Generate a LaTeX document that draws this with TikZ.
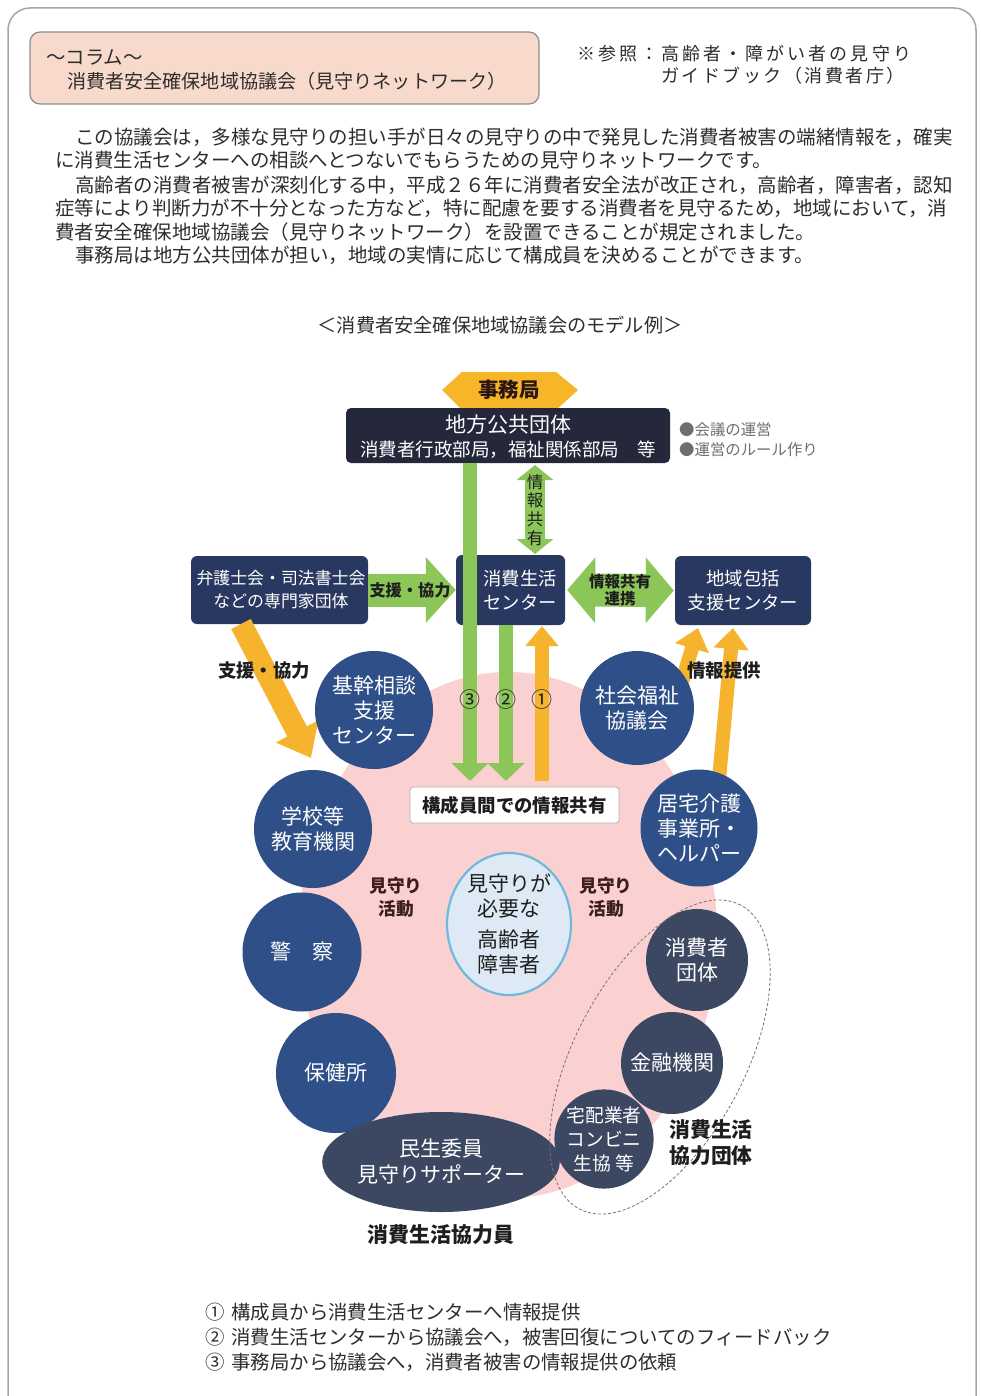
\documentclass[tikz,border=0pt]{standalone}
\usepackage{fontspec}
\setmainfont{Noto Sans CJK JP}
\usetikzlibrary{arrows.meta,shapes.geometric}

\definecolor{framec}{RGB}{165,165,165}
\definecolor{titlebg}{RGB}{248,218,204}
\definecolor{titleln}{RGB}{140,140,140}
\definecolor{txt}{RGB}{45,45,45}
\definecolor{darkbox}{RGB}{36,40,58}
\definecolor{navy}{RGB}{40,56,96}
\definecolor{cblue}{RGB}{46,79,136}
\definecolor{cgray}{RGB}{60,72,98}
\definecolor{grn}{RGB}{141,198,88}
\definecolor{org}{RGB}{246,180,46}
\definecolor{pinkbg}{RGB}{250,208,208}
\definecolor{elfill}{RGB}{221,234,245}
\definecolor{elline}{RGB}{110,185,222}
\definecolor{bulletc}{RGB}{110,110,110}
\definecolor{lbl}{RGB}{30,30,30}
\definecolor{mimori}{RGB}{60,30,30}
\definecolor{hexc}{RGB}{247,182,40}

\newcommand{\fsz}[2]{\fontsize{#1}{#2}\selectfont}

\begin{document}
\begin{tikzpicture}[x=1pt,y=-1pt,
  para/.style={anchor=west, inner sep=0pt, text=txt, font=\fsz{19.5}{24}},
  note/.style={anchor=west, inner sep=0pt, text=txt, font=\fsz{19.4}{24}},
  navybox/.style={rectangle, rounded corners=6pt, fill=navy, inner sep=0pt},
  boxtxt/.style={text=white, align=center, inner sep=0pt},
  circ/.style={circle, fill=cblue, text=white, inner sep=0pt, align=center, font=\fsz{21}{25}},
  gcirc/.style={circle, fill=cgray, text=white, inner sep=0pt, align=center, font=\fsz{21}{25}},
  blab/.style={inner sep=0pt, text=lbl, align=center, font=\bfseries\fsz{18.4}{22}},
  numlab/.style={inner sep=0pt, text=lbl, font=\fsz{21}{24}},
  garrow/.style={draw=grn, line width=14pt, -{Triangle[width=36pt,length=18pt]}},
  oarrow/.style={draw=org, line width=14pt, -{Triangle[width=34pt,length=21pt]}},
]
\path[use as bounding box] (0,0) rectangle (980,1396);
\fill[white] (0,0) rectangle (980,1396);
\begin{scope}
  \clip (0,0) rectangle (980,1396);
  \draw[framec, line width=1.5pt, rounded corners=22pt] (8,8) rectangle (976,1430);
\end{scope}

% title box
\node[draw=titleln, line width=1.2pt, fill=titlebg, rounded corners=10pt,
      minimum width=509pt, minimum height=72pt, inner sep=0pt] (titlebox) at (284.5,68) {};
\node[anchor=west, inner sep=0pt, text=txt, font=\fsz{19.4}{24}] (coltitle) at (46,57) {～コラム～};
\node[anchor=west, inner sep=0pt, text=txt, font=\fsz{19.1}{24}] (council) at (67,81) {消費者安全確保地域協議会（見守りネットワーク）};
\node[anchor=west, inner sep=0pt, text=txt, font=\fsz{18}{24}\addfontfeature{LetterSpace=17}] (ref1) at (577,54) {※参照：高齢者・障がい者の見守り};
\node[anchor=west, inner sep=0pt, text=txt, font=\fsz{18}{24}\addfontfeature{LetterSpace=14}] (ref2) at (661,76) {ガイドブック（消費者庁）};

% paragraph
\node[para] (p1) at (75,137) {この協議会は，多様な見守りの担い手が日々の見守りの中で発見した消費者被害の端緒情報を，確実};
\node[para] (p2) at (55,160) {に消費生活センターへの相談へとつないでもらうための見守りネットワークです。};
\node[para] (p3) at (75,185) {高齢者の消費者被害が深刻化する中，平成２６年に消費者安全法が改正され，高齢者，障害者，認知};
\node[para] (p4) at (55,208) {症等により判断力が不十分となった方など，特に配慮を要する消費者を見守るため，地域において，消};
\node[para] (p5) at (55,232) {費者安全確保地域協議会（見守りネットワーク）を設置できることが規定されました。};
\node[para] (p6) at (75,255) {事務局は地方公共団体が担い，地域の実情に応じて構成員を決めることができます。};

\node[inner sep=0pt, text=txt, font=\fsz{19.2}{24}] (model) at (500,325) {＜消費者安全確保地域協議会のモデル例＞};

% pink background
\node[ellipse, fill=pinkbg, minimum width=418pt, minimum height=526pt, inner sep=0pt] (pink) at (508,935) {};

% jimukyoku hexagon and local government box
\fill[hexc] (442,390) -- (462,372) -- (556,372) -- (578,390) -- (556,410) -- (462,410) -- cycle;
\node[inner sep=0pt, text=mimori!70!black, font=\bfseries\fsz{20.5}{24}] (jimu) at (509,390) {事務局};
\node[rectangle, rounded corners=5pt, fill=darkbox, minimum width=324pt, minimum height=55pt, inner sep=0pt] (gov) at (508,435.5) {};
\node[boxtxt, font=\fsz{21}{24}] (govt1) at (508,425) {地方公共団体};
\node[boxtxt, font=\fsz{18.5}{24}] (govt2) at (508,450) {消費者行政部局，福祉関係部局　等};
\node[anchor=west, inner sep=0pt, text=bulletc, font=\fsz{15.4}{20}] (bul1) at (679,430) {●会議の運営};
\node[anchor=west, inner sep=0pt, text=bulletc, font=\fsz{15.4}{20}] (bul2) at (679,450) {●運営のルール作り};

% boxes
\node[navybox, minimum width=177pt, minimum height=68pt] (bengo) at (279.5,590) {};
\node[boxtxt, font=\fsz{16.9}{23}] (bengot) at (281,590) {弁護士会・司法書士会\\などの専門家団体};
\node[navybox, minimum width=109pt, minimum height=70pt] (center) at (510.5,590) {};
\node[boxtxt, font=\fsz{18.3}{24}] (centert) at (520,590) {消費生活\\センター};
\node[navybox, minimum width=136pt, minimum height=69pt] (chiiki) at (743,590.5) {};
\node[boxtxt, font=\fsz{18.4}{24}] (chiikit) at (743,590.5) {地域包括\\支援センター};

% vertical info share arrow
\coordinate (vs1) at (535,465);
\coordinate (vs2) at (535,554);
\draw[draw=grn, line width=20pt, {Triangle[width=36pt,length=15pt]}-{Triangle[width=36pt,length=15pt]}] (vs1) -- (vs2);
\node[inner sep=0pt, align=center, text=lbl, font=\fsz{16.5}{18.6}] (vst) at (535,510) {情\\報\\共\\有};

% horizontal green arrows
\draw[draw=grn, line width=33pt, -{Triangle[width=64pt,length=30pt]}] (bengo.east) -- (center.west);
\node[inner sep=0pt, text=lbl, font=\bfseries\fsz{16.2}{20}] (shien1) at (410,590) {支援・協力};
\draw[draw=grn, line width=33pt, {Triangle[width=64pt,length=28pt]}-{Triangle[width=64pt,length=28pt]}] ([xshift=2pt]center.east) -- ([xshift=-1pt]chiiki.west);
\node[inner sep=0pt, align=center, text=lbl, font=\bfseries\fsz{15.5}{17}] (renkei) at (620,590) {情報共有\\連携};

% numbered arrows
\coordinate (a3s) at (470,463);
\coordinate (a3e) at (470,781);
\coordinate (a2e) at (506,781);
\coordinate (a1s) at (542,781);
\coordinate (a1e) at (542,626);
\draw[garrow] (a3s) -- (a3e);
\draw[garrow] ([xshift=-4.5pt]center.south) -- (a2e);
\draw[oarrow, -{Triangle[width=32pt,length=20pt]}] (a1s) -- (a1e);
\node[numlab] (n3) at (470,700) {③};
\node[numlab] (n2) at (506,700) {②};
\node[numlab] (n1) at (542,700) {①};

% orange arrows
\coordinate (ol1) at (241,624);
\coordinate (ol2) at (311,758);
\draw[draw=org, line width=22pt, -{Triangle[width=46pt,length=30pt]}] (ol1) -- (ol2);
\node[blab] (shien2) at (264,671) {支援・協力};
\coordinate (or1s) at (676,702);
\coordinate (or1e) at (698,628);
\coordinate (or2s) at (718,790);
\coordinate (or2e) at (733,628);
\draw[oarrow] (or1s) -- (or1e);
\draw[oarrow] (or2s) -- (or2e);
\node[blab] (teikyo) at (724,671) {情報提供};

% circles
\node[circ, minimum size=118pt] (kikan) at (374,710) {基幹相談\\支援\\センター};
\node[circ, minimum size=114pt] (shakai) at (637,708) {社会福祉\\協議会};
\node[circ, minimum size=118pt] (gakko) at (313,829) {学校等\\教育機関};
\node[circ, minimum size=117pt] (kyotaku) at (699,828) {居宅介護\\事業所・\\ヘルパー};
\node[circ, minimum size=119pt] (keisatsu) at (302,952) {警　察};
\node[circ, minimum size=120pt] (hoken) at (336,1073) {保健所};
\node[ellipse, fill=cgray, text=white, inner sep=0pt, align=center, font=\fsz{21}{26},
      minimum width=188pt, minimum height=100pt] (minsei) at (441,1162) {民生委員\\見守りサポーター};
\node[gcirc, minimum size=102pt] (shohisha) at (697,960) {消費者\\団体};
\node[gcirc, minimum size=102pt] (kinyu) at (672,1063) {金融機関};
\node[gcirc, minimum size=98pt, font=\fsz{18.7}{24}] (takuhai) at (604,1139) {宅配業者\\コンビニ\\生協 等};

% central ellipse
\node[ellipse, fill=elfill, draw=elline, line width=2.2pt, minimum width=124pt, minimum height=142pt,
      inner sep=0pt, align=center, text=lbl, font=\fsz{21}{25}] (koreisha) at (509,924)
      {見守りが\\必要な\\[6pt]高齢者\\障害者};

% dashed ellipse
\draw[draw=black!55, line width=0.8pt, dash pattern=on 3pt off 2pt, rotate around={62:(660,1057)}]
  (660,1057) ellipse [x radius=172pt, y radius=85pt];

% info share box
\node[rectangle, draw=black!30, fill=white, line width=0.8pt, rounded corners=3pt,
      minimum width=209pt, minimum height=36pt, inner sep=0pt, text=lbl,
      font=\bfseries\fsz{18.4}{22}] (kosei) at (514.5,805) {構成員間での情報共有};

% labels
\node[inner sep=0pt, align=center, text=mimori, font=\bfseries\fsz{17.7}{23}] (mimo1) at (396,897) {見守り\\活動};
\node[inner sep=0pt, align=center, text=mimori, font=\bfseries\fsz{17.7}{23}] (mimo2) at (606,897) {見守り\\活動};
\node[inner sep=0pt, align=center, text=lbl, font=\bfseries\fsz{20.8}{26}] (kyodan) at (711,1143) {消費生活\\協力団体};
\node[inner sep=0pt, text=lbl, font=\bfseries\fsz{20.9}{26}] (kyoin) at (441,1235) {消費生活協力員};

% notes
\node[note] (note1) at (205,1312) {①\hspace{7pt}構成員から消費生活センターへ情報提供};
\node[note] (note2) at (205,1337) {②\hspace{7pt}消費生活センターから協議会へ，被害回復についてのフィードバック};
\node[note] (note3) at (205,1362) {③\hspace{7pt}事務局から協議会へ，消費者被害の情報提供の依頼};
\end{tikzpicture}
\end{document}
